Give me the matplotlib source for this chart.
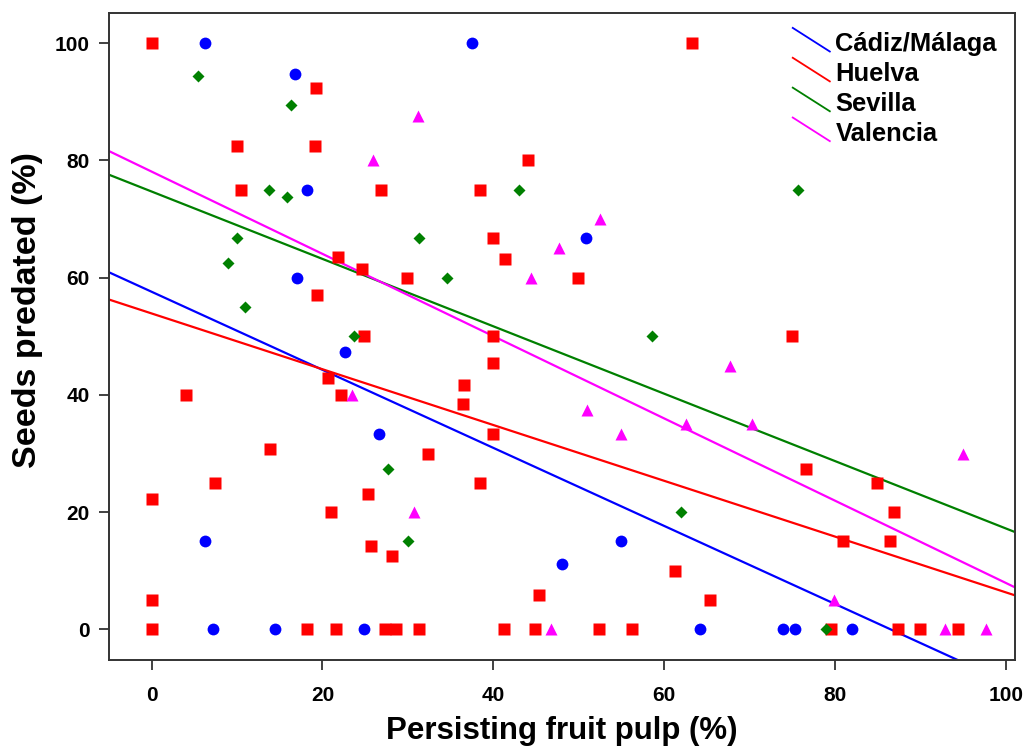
import matplotlib
matplotlib.use("Agg")
import matplotlib.pyplot as plt
from matplotlib.lines import Line2D
from matplotlib.legend_handler import HandlerBase

plt.rcParams['font.family'] = ['Liberation Sans', 'DejaVu Sans']
plt.rcParams['font.weight'] = 'bold'

# Cadiz/Malaga
cad_x = [6.2, 37.5, 16.8, 18.2, 50.8, 17.0, 22.6, 26.6, 6.2, 54.9, 48.0,
         7.2, 14.5, 24.9, 64.2, 73.9, 75.3, 82.0]
cad_y = [100, 100, 94.8, 75, 66.7, 60, 47.3, 33.3, 15, 15, 11.1,
         0, 0, 0, 0, 0, 0, 0]

# Huelva
hue_x = [0, 63.2, 19.2, 10.0, 19.1, 44.0, 10.5, 26.8, 38.4, 40.0, 21.8, 41.3,
         24.6, 29.9, 49.9, 19.3, 24.9, 40.0, 74.9, 40.0, 20.7, 36.6, 4.0, 22.2,
         36.5, 40.0, 32.4, 13.8, 76.6, 7.4, 38.4, 84.9, 25.3, 0, 21.0, 86.9,
         25.7, 80.9, 86.4, 28.1, 61.2, 45.3, 0, 65.4,
         0, 18.2, 21.6, 27.3, 28.6, 31.3, 41.2, 44.9, 52.4, 56.2, 79.5, 87.4,
         89.9, 94.4]
hue_y = [100, 100, 92.3, 82.4, 82.4, 80, 75, 75, 75, 66.7, 63.6, 63.2,
         61.5, 60, 60, 57.1, 50, 50, 50, 45.5, 42.9, 41.7, 40, 40,
         38.5, 33.3, 30, 30.8, 27.3, 25, 25, 25, 23.1, 22.2, 20, 20,
         14.3, 15, 15, 12.5, 10, 5.9, 5, 5,
         0, 0, 0, 0, 0, 0, 0, 0, 0, 0, 0, 0,
         0, 0]

# Sevilla
sev_x = [5.4, 16.3, 13.7, 43.0, 75.6, 15.8, 10.0, 31.3, 9.0, 34.6, 10.9,
         23.7, 58.6, 27.7, 62.0, 30.0, 78.9]
sev_y = [94.4, 89.5, 75, 75, 75, 73.7, 66.7, 66.7, 62.5, 60, 55,
         50, 50, 27.3, 20, 15, 0]

# Valencia
val_x = [31.2, 25.9, 52.5, 47.7, 44.4, 67.7, 23.4, 50.9, 62.5, 70.3, 54.9,
         94.9, 30.7, 79.9, 46.7, 92.9, 97.7]
val_y = [87.5, 80, 70, 65, 60, 45, 40, 37.5, 35, 35, 33.3,
         30, 20, 5, 0, 0, 0]

groups = ["Cádiz/Málaga", "Huelva", "Sevilla", "Valencia"]
fit_intercept = [57.6, 53.9, 74.7, 78.1]
fit_slope = [-0.666, -0.476, -0.575, -0.702]

colors = ["#0000FF", "#FF0000", "#008000", "#FF00FF"]
markers = ["o", "s", "D", "^"]
msizes = [8.5, 8.2, 6.2, 9.0]
xs = [cad_x, hue_x, sev_x, val_x]
ys = [cad_y, hue_y, sev_y, val_y]


class SlantHandler(HandlerBase):
    # legend key drawn as a short falling line, like R's abline legend
    def create_artists(self, legend, orig_handle, xdescent, ydescent,
                       width, height, fontsize, trans):
        ln = Line2D([0, width], [height * 1.3, -height * 0.02],
                    color=orig_handle.get_color(), lw=1.3, transform=trans)
        return [ln]


fig = plt.figure(figsize=(10.27, 7.49), dpi=100)
ax = fig.add_axes([0.106, 0.119, 0.882, 0.864])

for i in range(4):
    ax.plot(xs[i], ys[i], ls="none", marker=markers[i], ms=msizes[i],
            color=colors[i], mec="none", zorder=3)

handles = []
for i in range(4):
    ax.axline((0, fit_intercept[i]), slope=fit_slope[i], color=colors[i],
              lw=1.6, zorder=2)
    handles.append(Line2D([], [], color=colors[i]))

ax.set_xlim(-5, 101)
ax.set_ylim(-5.2, 105.2)
ax.set_xticks(range(0, 101, 20))
ax.set_yticks(range(0, 101, 20))
ax.tick_params(axis="both", direction="out", length=7, width=1.3,
               color="#333333", labelsize=15)
ax.tick_params(axis="x", pad=12)
ax.tick_params(axis="y", pad=7)
for sp in ax.spines.values():
    sp.set_color("#333333")
    sp.set_linewidth(1.4)

ax.set_xlabel("Persisting fruit pulp (%)", fontsize=22.5, fontweight="bold",
              labelpad=8)
ax.set_ylabel("Seeds predated (%)", fontsize=24.5, fontweight="bold")
ax.yaxis.set_label_coords(-0.073, 0.541)

leg = ax.legend(handles, groups, handler_map={Line2D: SlantHandler()},
                loc="upper left", bbox_to_anchor=(0.755, 0.97),
                frameon=False, borderpad=0, borderaxespad=0,
                handlelength=1.45, handletextpad=0.22, labelspacing=0.23,
                prop={"size": 18.4, "weight": "bold"})

fig.savefig("out.png", dpi=100)
